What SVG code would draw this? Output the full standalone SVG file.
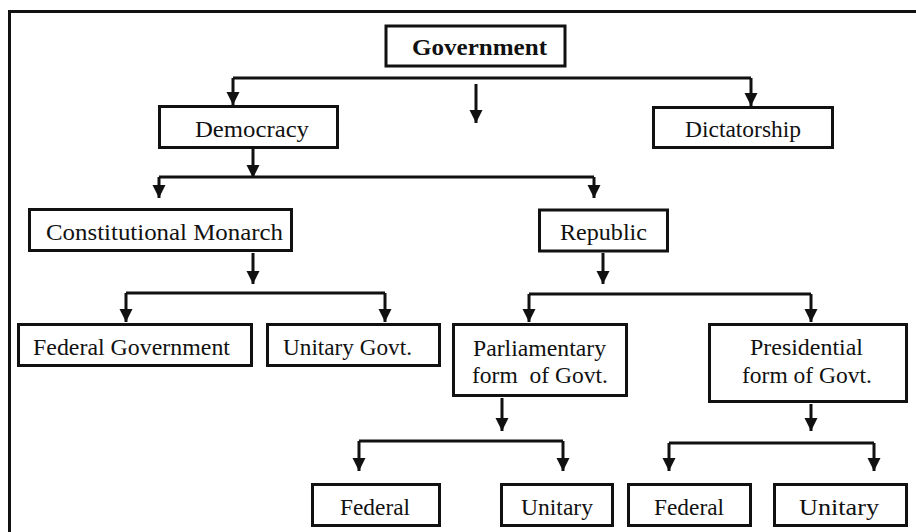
<svg xmlns="http://www.w3.org/2000/svg" width="916" height="532" viewBox="0 0 916 532">
<style>
.box{fill:#fff;stroke:#111;stroke-width:3}
.t{font-size:23px;fill:#111;text-anchor:middle}
.b{font-weight:bold;font-size:24px}
.c{fill:none;stroke:#111;stroke-width:3;marker-end:url(#ah)}
.l{fill:none;stroke:#111;stroke-width:3}
</style>
<defs>
<marker id="ah" markerUnits="userSpaceOnUse" markerWidth="14" markerHeight="14" refX="13" refY="6.5" orient="auto">
<path d="M0,0 L13,6.5 L0,13 z" fill="#111"/>
</marker>
</defs>
<rect width="916" height="532" fill="#fff"/>
<path class="l" d="M9.5,532 V11.5 H916"/>
<g id="connectors">
<path class="l" d="M233,78 H751"/>
<path class="c" d="M233,78 V105"/>
<path class="c" d="M751,78 V106"/>
<path class="c" d="M476,84 V123"/>
<path class="c" d="M253,149 V178"/>
<path class="l" d="M159,177 H594"/>
<path class="c" d="M159,177 V198"/>
<path class="c" d="M594,177 V198"/>
<path class="c" d="M253,253 V284"/>
<path class="l" d="M126,293 H385"/>
<path class="c" d="M126,293 V322"/>
<path class="c" d="M385,293 V322"/>
<path class="c" d="M603,253 V284"/>
<path class="l" d="M529,294 H811"/>
<path class="c" d="M529,294 V322"/>
<path class="c" d="M811,294 V322"/>
<path class="c" d="M502,398 V431"/>
<path class="l" d="M359,441 H563"/>
<path class="c" d="M359,441 V471"/>
<path class="c" d="M563,441 V471"/>
<path class="c" d="M811,404 V431"/>
<path class="l" d="M669,443 H874"/>
<path class="c" d="M669,443 V471"/>
<path class="c" d="M874,443 V471"/>
</g>
<g font-family="Liberation Serif, DejaVu Serif, serif">
<g id="government"><rect class="box" x="386" y="26" width="179" height="40"/><text class="t b" x="479.5" y="55" textLength="135" lengthAdjust="spacingAndGlyphs">Government</text></g>
<g id="democracy"><rect class="box" x="159.5" y="106.5" width="178" height="41"/><text class="t" x="252" y="137" textLength="114" lengthAdjust="spacingAndGlyphs">Democracy</text></g>
<g id="dictatorship"><rect class="box" x="653.5" y="107.5" width="179" height="40"/><text class="t" x="743" y="137" textLength="116" lengthAdjust="spacingAndGlyphs">Dictatorship</text></g>
<g id="constitutional-monarch"><rect class="box" x="29.5" y="209.5" width="262" height="41"/><text class="t" x="164.5" y="240" textLength="237" lengthAdjust="spacingAndGlyphs">Constitutional Monarch</text></g>
<g id="republic"><rect class="box" x="539.5" y="210" width="128" height="41"/><text class="t" x="603.5" y="240" textLength="87" lengthAdjust="spacingAndGlyphs">Republic</text></g>
<g id="federal-government"><rect class="box" x="18.5" y="324.5" width="233" height="41"/><text class="t" x="131.5" y="355" textLength="197" lengthAdjust="spacingAndGlyphs">Federal Government</text></g>
<g id="unitary-govt"><rect class="box" x="267.5" y="324.5" width="172" height="41"/><text class="t" x="347.5" y="355" textLength="129" lengthAdjust="spacingAndGlyphs">Unitary Govt.</text></g>
<g id="parliamentary"><rect class="box" x="453.5" y="324.5" width="173" height="71"/><text class="t" x="539.5" y="356" textLength="133" lengthAdjust="spacingAndGlyphs">Parliamentary</text><text class="t" x="540" y="383" textLength="136" lengthAdjust="spacingAndGlyphs" xml:space="preserve">form  of Govt.</text></g>
<g id="presidential"><rect class="box" x="709.5" y="324.5" width="197" height="77"/><text class="t" x="806.5" y="355" textLength="113" lengthAdjust="spacingAndGlyphs">Presidential</text><text class="t" x="807" y="383" textLength="130" lengthAdjust="spacingAndGlyphs">form of Govt.</text></g>
<g id="parl-federal"><rect class="box" x="312.5" y="484.5" width="127" height="41"/><text class="t" x="375" y="515" textLength="70" lengthAdjust="spacingAndGlyphs">Federal</text></g>
<g id="parl-unitary"><rect class="box" x="501.5" y="484.5" width="111" height="41"/><text class="t" x="557" y="515" textLength="72" lengthAdjust="spacingAndGlyphs">Unitary</text></g>
<g id="pres-federal"><rect class="box" x="628.5" y="484.5" width="122" height="41"/><text class="t" x="689" y="515" textLength="70" lengthAdjust="spacingAndGlyphs">Federal</text></g>
<g id="pres-unitary"><rect class="box" x="774.5" y="484.5" width="132" height="41"/><text class="t" x="839" y="515" textLength="80" lengthAdjust="spacingAndGlyphs">Unitary</text></g>
</g>
</svg>
